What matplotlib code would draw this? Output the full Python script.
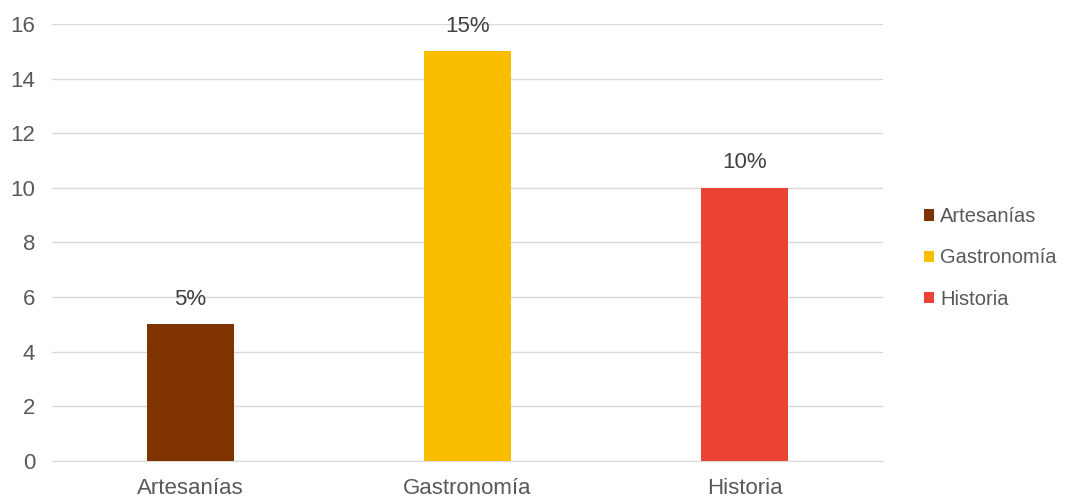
import matplotlib
matplotlib.use("Agg")
import matplotlib.pyplot as plt
from matplotlib.patches import Patch

categories = ["Artesanías", "Gastronomía", "Historia"]
values = [5, 15, 10]
labels = ["5%", "15%", "10%"]
colors = ["#7F3300", "#F9BE00", "#EA4335"]
yticks = [0, 2, 4, 6, 8, 10, 12, 14, 16]

plt.rcParams['font.family'] = ['Liberation Sans', 'DejaVu Sans']
txt = "#595959"
fs = 16

fig = plt.figure(figsize=(10.73, 4.98), dpi=100)
ax = fig.add_axes([0.0485, 0.0743, 0.7745, 0.8777])
x = list(range(len(categories)))
bars = ax.bar(x, values, width=0.314, color=colors, zorder=3)
for b, lab in zip(bars, labels):
    ax.annotate(lab, (b.get_x() + b.get_width() / 2, b.get_height()),
                xytext=(0, 18), textcoords="offset points", ha="center", va="center",
                fontsize=fs, color="#404040")
ax.set_xlim(-0.5, 2.5)
ax.set_ylim(0, 16)
ax.set_yticks(yticks)
ax.set_xticks(x)
ax.set_xticklabels(categories)
ax.grid(axis="y", color="#D9D9D9", linewidth=1, zorder=0)
for s in ["top", "right", "left"]:
    ax.spines[s].set_visible(False)
ax.spines["bottom"].set_color("#D9D9D9")
ax.tick_params(axis="both", length=0, labelsize=fs, colors=txt)
ax.tick_params(axis="y", pad=12)
ax.tick_params(axis="x", pad=12)

handles = [Patch(facecolor=c, label=l) for c, l in zip(colors, categories)]
fig.legend(handles=handles, loc="center left", bbox_to_anchor=(0.8445, 0.482),
           frameon=False, fontsize=14.5, labelcolor=txt, handlelength=0.5,
           handleheight=0.5, handletextpad=0.3, labelspacing=1.1)
fig.savefig("out.png", dpi=100)
